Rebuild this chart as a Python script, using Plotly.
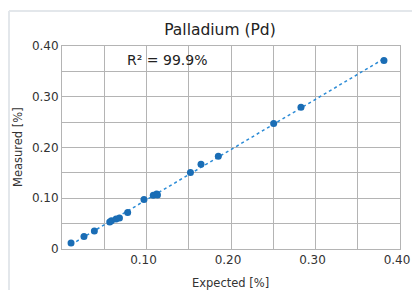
import numpy as np
import plotly.graph_objects as go

expected = [0.0107, 0.026, 0.0383, 0.0565, 0.0585, 0.064, 0.068, 0.0777, 0.097,
            0.108, 0.112, 0.113, 0.152, 0.1645, 0.185, 0.2505, 0.2828, 0.381]
measured = [0.0118, 0.0244, 0.0355, 0.053, 0.0555, 0.059, 0.061, 0.0717, 0.0973,
            0.1058, 0.1084, 0.1064, 0.1505, 0.1669, 0.1827, 0.2471, 0.2792, 0.3712]
x_ticks = [0.10, 0.20, 0.30, 0.40]
x_labels = ["0.10", "0.20", "0.30", "0.40"]
y_ticks = [0, 0.10, 0.20, 0.30, 0.40]
y_labels = ["0", "0.10", "0.20", "0.30", "0.40"]
title = "Palladium (Pd)"
r2_text = "R² = 99.9%"
x_title = "Expected [%]"
y_title = "Measured [%]"

ex = np.array(expected)
me = np.array(measured)
slope, intercept = np.polyfit(ex, me, 1)
fit_x = np.array([ex.min(), ex.max()])
fit_y = slope * fit_x + intercept

FONT = "DejaVu Sans"
GRID = "#b4b4b4"
W, H = 412, 290
L, R, T, B = 62, 12, 46, 41
pw, ph = W - L - R, H - T - B

def px(x):
    return (x - L) / pw

def py(y):
    return (H - B - y) / ph

fig = go.Figure()
fig.add_trace(go.Scatter(x=fit_x, y=fit_y, mode="lines",
                         line=dict(color="#2b8bd6", width=1.5, dash="dot"),
                         showlegend=False, hoverinfo="skip"))
fig.add_trace(go.Scatter(x=expected, y=measured, mode="markers",
                         marker=dict(color="#1a6db5", size=7),
                         showlegend=False))

fig.update_layout(
    width=W, height=H,
    margin=dict(l=L, r=R, t=T, b=B, autoexpand=False),
    paper_bgcolor="white", plot_bgcolor="white",
    font=dict(family=FONT, size=12, color="#333333"),
    title=dict(text=title, xref="container", yref="container",
               x=220 / W, xanchor="center", y=1 - 30 / H, yanchor="middle",
               font=dict(family=FONT, size=15.5, color="#222222")),
    xaxis=dict(range=[0, 0.40], tickvals=x_ticks, ticktext=x_labels,
               showgrid=True, gridcolor=GRID, gridwidth=1,
               showline=True, linecolor=GRID, linewidth=1, mirror=True,
               zeroline=False, ticks="", automargin=False,
               ticklabeloverflow="allow", ticklabelshift=-3,
               minor=dict(dtick=0.05, tick0=0, showgrid=True, gridcolor=GRID, gridwidth=1)),
    yaxis=dict(range=[0, 0.40], tickvals=y_ticks, ticktext=y_labels,
               showgrid=True, gridcolor=GRID, gridwidth=1,
               showline=True, linecolor=GRID, linewidth=1, mirror=True,
               zeroline=False, ticks="", automargin=False,
               minor=dict(dtick=0.05, tick0=0, showgrid=True, gridcolor=GRID, gridwidth=1)),
    showlegend=False,
)

fig.add_annotation(text=r2_text, xref="paper", yref="paper", x=px(167), y=py(60),
                   xanchor="center", yanchor="middle", showarrow=False,
                   font=dict(family=FONT, size=14, color="#222222"))
fig.add_annotation(text=x_title, xref="paper", yref="paper", x=px(230), y=py(283),
                   xanchor="center", yanchor="middle", showarrow=False,
                   font=dict(family=FONT, size=11.5, color="#333333"))
fig.add_annotation(text=y_title, xref="paper", yref="paper", x=px(18), y=py(147),
                   xanchor="center", yanchor="middle", showarrow=False, textangle=-90,
                   font=dict(family=FONT, size=11.5, color="#333333"))

# outer light frame
fig.add_shape(type="line", xref="paper", yref="paper", x0=px(9), x1=px(420),
              y0=py(11), y1=py(11), line=dict(color="#e3e7eb", width=2))
fig.add_shape(type="line", xref="paper", yref="paper", x0=px(9), x1=px(9),
              y0=py(11), y1=py(300), line=dict(color="#e3e7eb", width=2))

fig.write_html("out.html", config={"displayModeBar": False},
               post_script="document.body.style.margin='0';document.documentElement.style.overflow='hidden';")
